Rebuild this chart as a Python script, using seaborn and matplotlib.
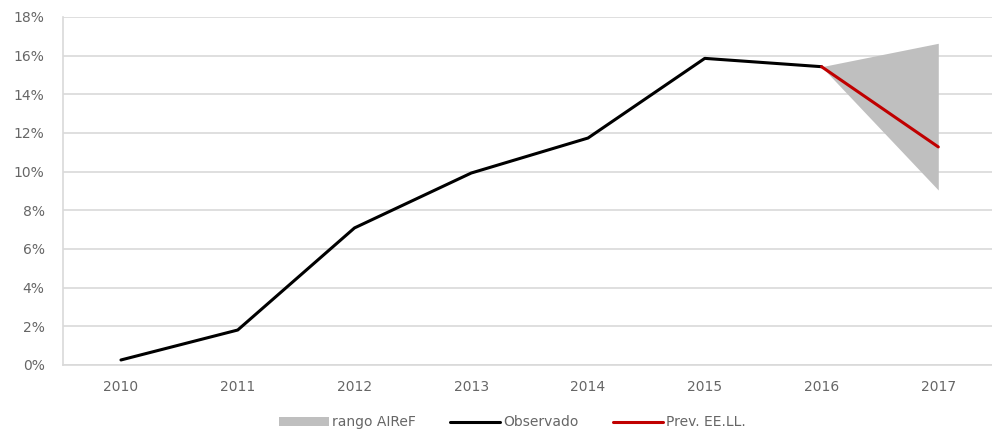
import matplotlib
matplotlib.use("Agg")
import matplotlib.pyplot as plt
import matplotlib.ticker as mticker
import pandas as pd
import seaborn as sns

years = [2010, 2011, 2012, 2013, 2014, 2015, 2016, 2017]
observado = [0.26, 1.81, 7.09, 9.93, 11.74, 15.86, 15.43]
prev_years = [2016, 2017]
prev_eell = [15.43, 11.28]
rango_low = [15.43, 9.05]
rango_high = [15.43, 16.64]

sns.set_theme(style="white")
plt.rcParams['font.family'] = ['DejaVu Sans']

pos = {y: i for i, y in enumerate(years)}
df_obs = pd.DataFrame({"x": [pos[y] for y in years[:len(observado)]], "v": observado})
df_prev = pd.DataFrame({"x": [pos[y] for y in prev_years], "v": prev_eell})

fig = plt.figure(figsize=(9.92, 4.34), dpi=100)
ax = fig.add_axes([62.6 / 992, 1 - 365 / 434, 1 - 62.6 / 992, 348 / 434])

ax.fill_between([pos[y] for y in prev_years], rango_low, rango_high,
                color="#bfbfbf", linewidth=0, label="rango AIReF", zorder=2)
sns.lineplot(data=df_obs, x="x", y="v", ax=ax, color="black", linewidth=2.2,
             label="Observado", zorder=3)
sns.lineplot(data=df_prev, x="x", y="v", ax=ax, color="#c00000", linewidth=2.2,
             label="Prev. EE.LL.", zorder=4)

ax.set_xlim(-0.5, 7.46)
ax.set_ylim(0, 18)
ax.set_xticks(range(len(years)))
ax.set_xticklabels([str(y) for y in years])
ax.yaxis.set_major_locator(mticker.MultipleLocator(2))
ax.yaxis.set_major_formatter(mticker.FuncFormatter(lambda v, p: f"{v:.0f}%"))
ax.grid(axis="y", color="#d9d9d9", linewidth=1.2)
ax.set_axisbelow(True)
ax.set_xlabel("")
ax.set_ylabel("")
ax.tick_params(axis="both", colors="#666666", labelsize=10, length=0)
ax.tick_params(axis="x", pad=11)
ax.tick_params(axis="y", pad=13)
for s in ["top", "right"]:
    ax.spines[s].set_visible(False)
for s in ["left", "bottom"]:
    ax.spines[s].set_color("#d9d9d9")
    ax.spines[s].set_linewidth(1.2)

leg = ax.legend(loc="center", bbox_to_anchor=(0.5 - 15 / 930, -0.165), ncol=3,
                frameon=False, fontsize=10, handlelength=3.6, handletextpad=0.2,
                columnspacing=2.5)
for t in leg.get_texts():
    t.set_color("#666666")

fig.savefig("out.png", dpi=100)
